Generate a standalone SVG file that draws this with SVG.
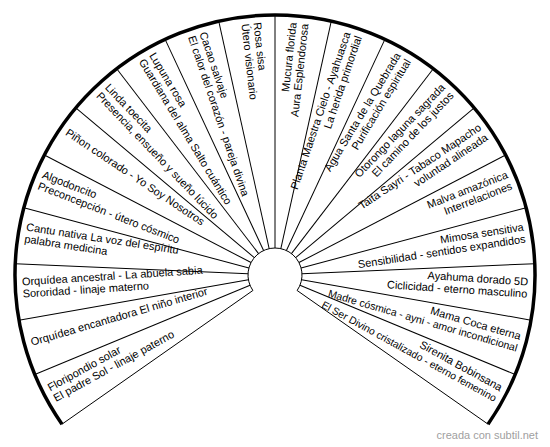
<svg xmlns="http://www.w3.org/2000/svg" width="550" height="447" viewBox="0 0 550 447">
<style>
.t{font-family:"Liberation Sans",Arial,sans-serif;font-size:11px;fill:#000}
.l{text-anchor:start}
.r{text-anchor:end}
.div{stroke:#000;stroke-width:1;fill:none}
.foot{font-family:"Liberation Sans",Arial,sans-serif;font-size:11px;fill:#a0a0a0;text-anchor:end}
</style>
<rect width="550" height="447" fill="#fff"/>
<g id="wheel">
<path d="M252.88 290.49 L62.02 424.13 A260 260 0 1 1 487.98 424.13 L297.12 290.49 A27 27 0 1 0 252.88 290.49 Z" fill="#fff" stroke="#000" stroke-width="1"/>
<path d="M62.02 424.13 A260 260 0 1 1 487.98 424.13" fill="none" stroke="#000" stroke-width="3.5"/>
</g>
<g id="connectors" transform="translate(275 275)">
<line class="div" x1="27" y1="0" x2="260" y2="0" transform="rotate(157.5)"/>
<line class="div" x1="27" y1="0" x2="260" y2="0" transform="rotate(170)"/>
<line class="div" x1="27" y1="0" x2="260" y2="0" transform="rotate(182.5)"/>
<line class="div" x1="27" y1="0" x2="260" y2="0" transform="rotate(195)"/>
<line class="div" x1="27" y1="0" x2="260" y2="0" transform="rotate(207.5)"/>
<line class="div" x1="27" y1="0" x2="260" y2="0" transform="rotate(220)"/>
<line class="div" x1="27" y1="0" x2="260" y2="0" transform="rotate(232.5)"/>
<line class="div" x1="27" y1="0" x2="260" y2="0" transform="rotate(245)"/>
<line class="div" x1="27" y1="0" x2="260" y2="0" transform="rotate(257.5)"/>
<line class="div" x1="27" y1="0" x2="260" y2="0" transform="rotate(270)"/>
<line class="div" x1="27" y1="0" x2="260" y2="0" transform="rotate(282.5)"/>
<line class="div" x1="27" y1="0" x2="260" y2="0" transform="rotate(295)"/>
<line class="div" x1="27" y1="0" x2="260" y2="0" transform="rotate(307.5)"/>
<line class="div" x1="27" y1="0" x2="260" y2="0" transform="rotate(320)"/>
<line class="div" x1="27" y1="0" x2="260" y2="0" transform="rotate(332.5)"/>
<line class="div" x1="27" y1="0" x2="260" y2="0" transform="rotate(345)"/>
<line class="div" x1="27" y1="0" x2="260" y2="0" transform="rotate(357.5)"/>
<line class="div" x1="27" y1="0" x2="260" y2="0" transform="rotate(370)"/>
<line class="div" x1="27" y1="0" x2="260" y2="0" transform="rotate(382.5)"/>
</g>
<g id="seg0" transform="translate(275 275) rotate(-28.75)"><text class="t l" x="-253" y="-6">Floripondio solar</text><text class="t l" x="-253" y="6">El padre Sol - linaje paterno</text></g>
<g id="seg1" transform="translate(275 275) rotate(-16.25)"><text class="t l" x="-253" y="0">Orquídea encantadora El niño interior</text></g>
<g id="seg2" transform="translate(275 275) rotate(-3.75)"><text class="t l" x="-253" y="-6">Orquídea ancestral - La abuela sabia</text><text class="t l" x="-253" y="6">Sororidad - linaje materno</text></g>
<g id="seg3" transform="translate(275 275) rotate(8.75)"><text class="t l" x="-253" y="-6">Cantu nativa La voz del espíritu</text><text class="t l" x="-253" y="6">palabra medicina</text></g>
<g id="seg4" transform="translate(275 275) rotate(21.25)"><text class="t l" x="-253" y="-6">Algodoncito</text><text class="t l" x="-253" y="6">Preconcepción - útero cósmico</text></g>
<g id="seg5" transform="translate(275 275) rotate(33.75)"><text class="t l" x="-253" y="0">Piñon colorado - Yo Soy Nosotros</text></g>
<g id="seg6" transform="translate(275 275) rotate(46.25)"><text class="t l" x="-253" y="-6">Linda toecita</text><text class="t l" x="-253" y="6">Presencia, ensueño y sueño lúcido</text></g>
<g id="seg7" transform="translate(275 275) rotate(58.75)"><text class="t l" x="-253" y="-6">Lupuna rosa</text><text class="t l" x="-253" y="6">Guardiana del alma Salto cuántico</text></g>
<g id="seg8" transform="translate(275 275) rotate(71.25)"><text class="t l" x="-253" y="-6">Cacao salvaje</text><text class="t l" x="-253" y="6">El calor del corazón - pareja divina</text></g>
<g id="seg9" transform="translate(275 275) rotate(83.75)"><text class="t l" x="-253" y="-6">Rosa sisa</text><text class="t l" x="-253" y="6">Útero visionario</text></g>
<g id="seg10" transform="translate(275 275) rotate(-83.75)"><text class="t r" x="253" y="-6">Mucura florida</text><text class="t r" x="253" y="6">Aura Esplendorosa</text></g>
<g id="seg11" transform="translate(275 275) rotate(-71.25)"><text class="t r" x="253" y="-6">Planta Maestra Cielo - Ayahuasca</text><text class="t r" x="253" y="6">La herida primordial</text></g>
<g id="seg12" transform="translate(275 275) rotate(-58.75)"><text class="t r" x="253" y="-6">Agua Santa de la Quebrada</text><text class="t r" x="253" y="6">Purificación espiritual</text></g>
<g id="seg13" transform="translate(275 275) rotate(-46.25)"><text class="t r" x="253" y="-6">Otorongo laguna sagrada</text><text class="t r" x="253" y="6">El camino de los justos</text></g>
<g id="seg14" transform="translate(275 275) rotate(-33.75)"><text class="t r" x="253" y="-6">Taita Sayri - Tabaco Mapacho</text><text class="t r" x="253" y="6">voluntad alineada</text></g>
<g id="seg15" transform="translate(275 275) rotate(-21.25)"><text class="t r" x="253" y="-6">Malva amazónica</text><text class="t r" x="253" y="6">Interrelaciones</text></g>
<g id="seg16" transform="translate(275 275) rotate(-8.75)"><text class="t r" x="253" y="-6">Mimosa sensitiva</text><text class="t r" x="253" y="6">Sensibilidad - sentidos expandidos</text></g>
<g id="seg17" transform="translate(275 275) rotate(3.75)"><text class="t r" x="253" y="-6">Ayahuma dorado 5D</text><text class="t r" x="253" y="6">Ciclicidad - eterno masculino</text></g>
<g id="seg18" transform="translate(275 275) rotate(16.25)"><text class="t r" x="253" y="-6">Mama Coca eterna</text><text class="t r" x="253" y="6" style="font-size:10.5px">Madre cósmica - ayni - amor incondicional</text></g>
<g id="seg19" transform="translate(275 275) rotate(28.75)"><text class="t r" x="253" y="-6">Sirenita Bobinsana</text><text class="t r" x="253" y="6" style="font-size:10.3px">El Ser Divino cristalizado - eterno femenino</text></g>
<text class="foot" x="538" y="439">creada con subtil.net</text>
</svg>
